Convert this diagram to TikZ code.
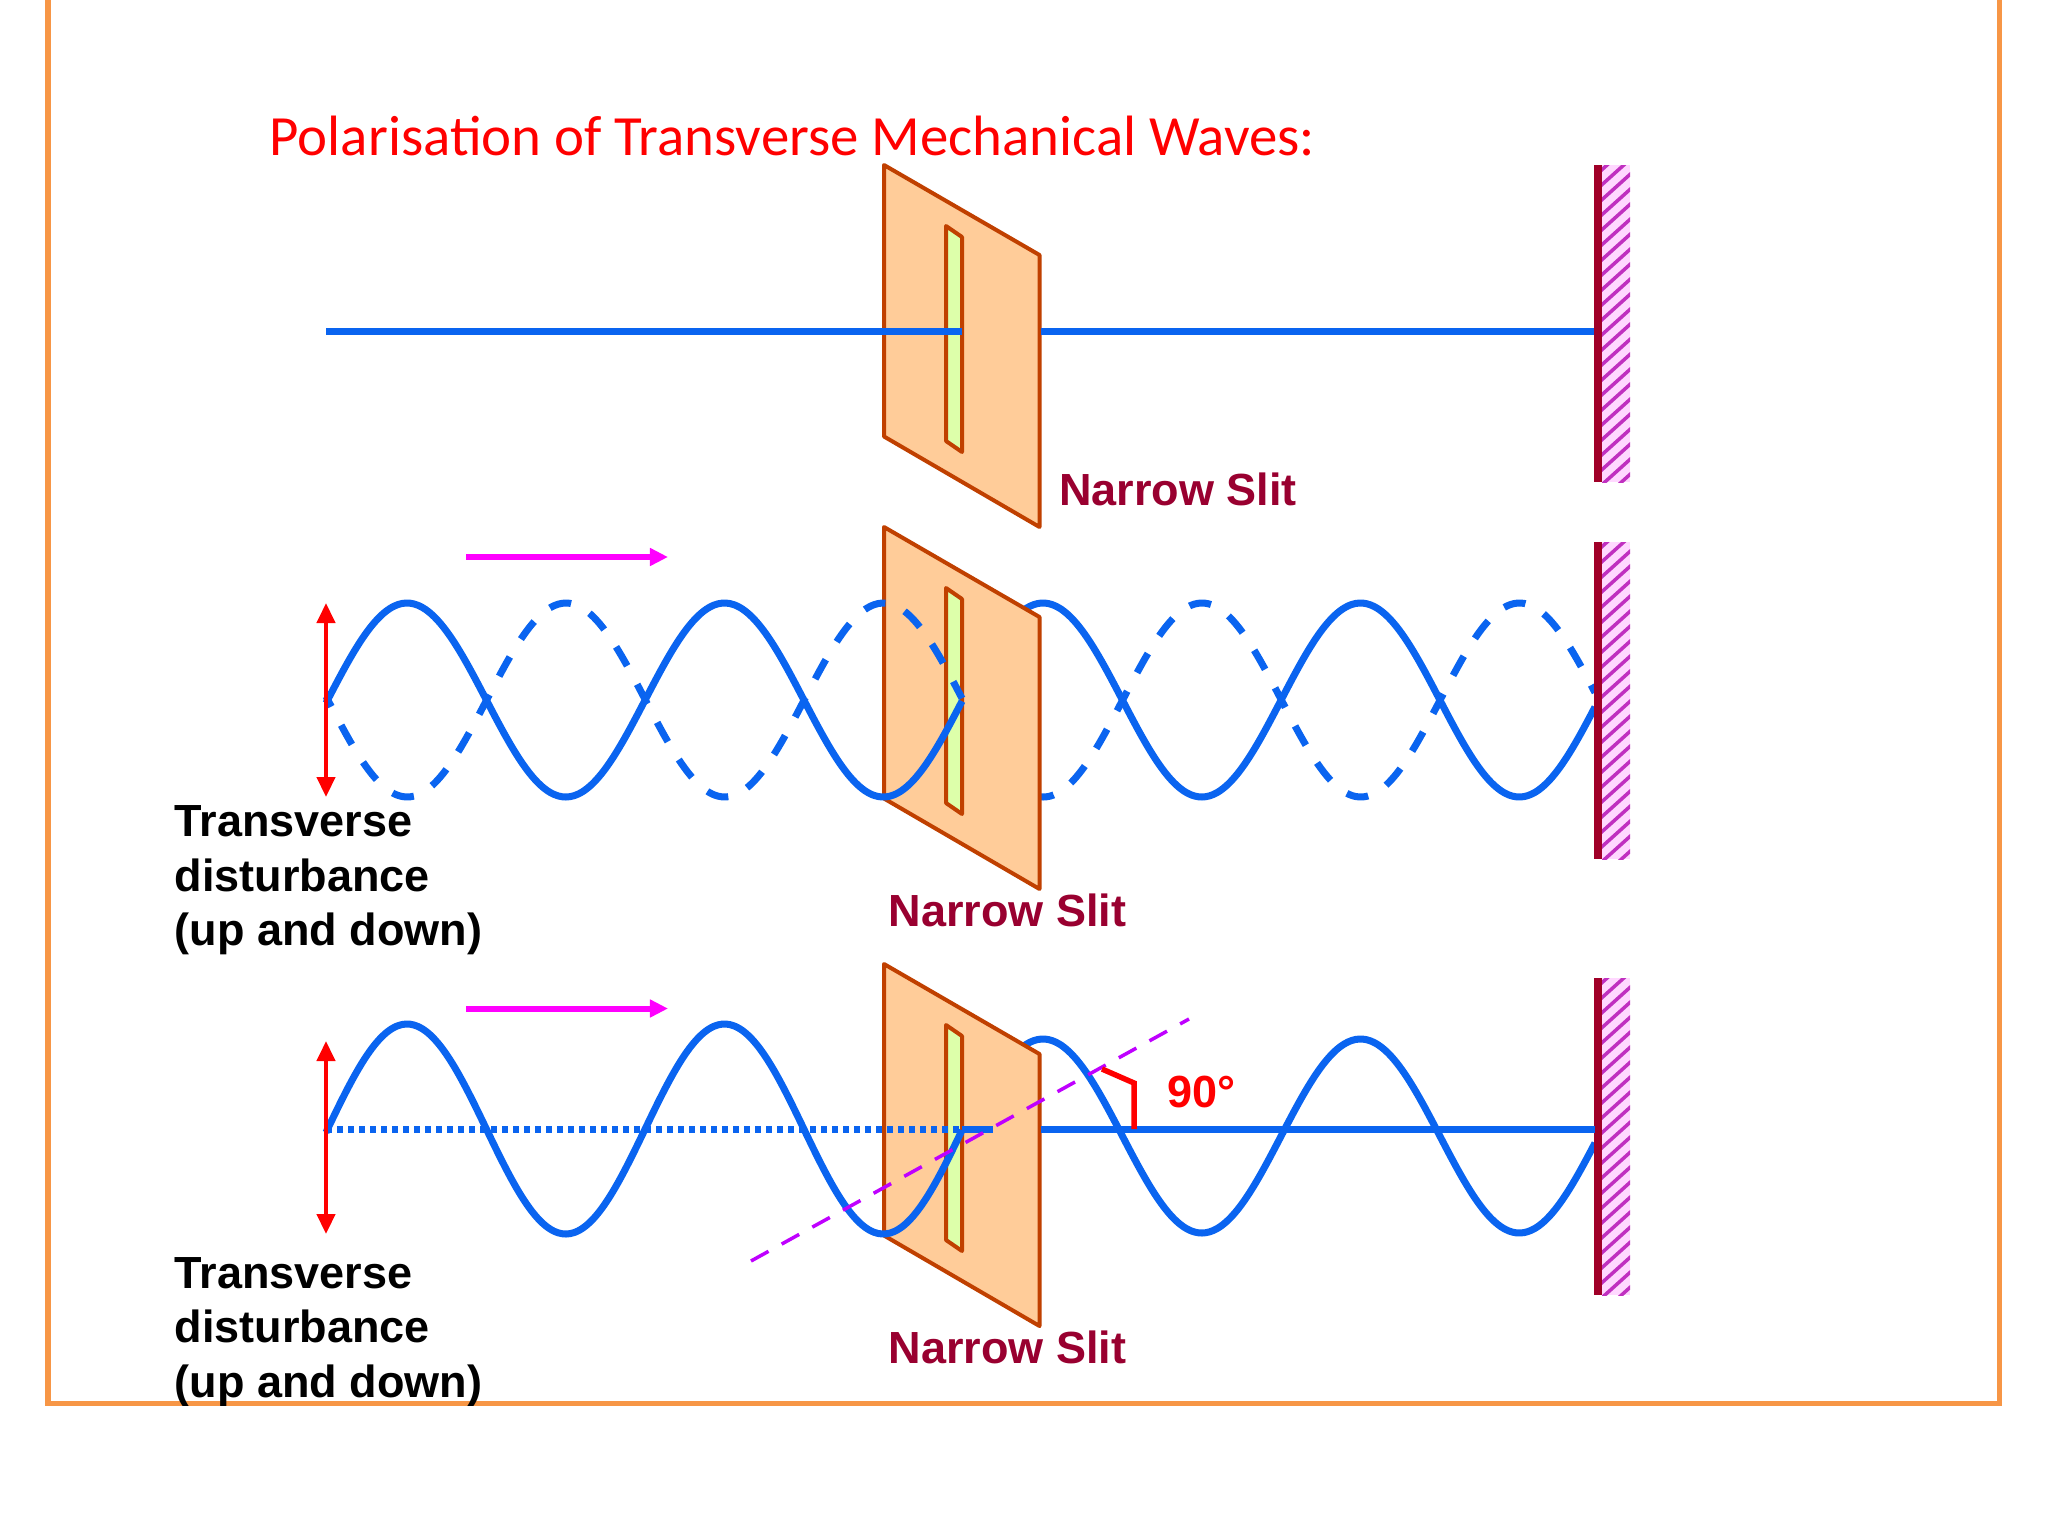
\documentclass[tikz,border=0pt]{standalone}
\usepackage{fontspec}
\setmainfont{Liberation Sans}
\newfontfamily\titlefont{Carlito}
\usetikzlibrary{arrows.meta}
\definecolor{bordor}{HTML}{F79646}
\definecolor{wavebl}{HTML}{0A64F0}
\definecolor{plateedge}{HTML}{C04000}
\definecolor{platefill}{HTML}{FFCC99}
\definecolor{slitfill}{HTML}{DDFFAA}
\definecolor{crimsonlab}{HTML}{990030}
\definecolor{walldark}{HTML}{A00028}
\definecolor{hatchlight}{HTML}{FFD8FF}
\definecolor{hatchdark}{HTML}{C030C0}
\definecolor{purpledash}{HTML}{BF00FF}
\definecolor{pinkarr}{HTML}{FF00FF}
\tikzset{
  x=0.01cm,y=-0.01cm,
  bluewave/.style={wavebl,line width=0.07cm,line join=round},
  plate/.style={draw=plateedge,fill=platefill,line width=0.04cm,line join=round},
  slit/.style={draw=plateedge,fill=slitfill,line width=0.04cm,line join=round},
  labelblack/.style={inner sep=0pt,anchor=base west,font=\fontsize{12.8}{15.4}\selectfont\bfseries,text=black},
  labelslit/.style={inner sep=0pt,anchor=base west,font=\fontsize{12.8}{15.4}\selectfont\bfseries,text=crimsonlab},
  redarrow/.style={red,line width=0.045cm,{Triangle[length=0.2cm,width=0.18cm]}-{Triangle[length=0.2cm,width=0.18cm]}},
  pinkarrow/.style={draw=pinkarr,line width=0.06cm,-{Triangle[length=0.18cm,width=0.17cm]}}
}
\newcommand{\plateat}[1]{%
  \begin{scope}[yshift=-#1*0.01cm]
  \draw[plate] (884,165)--(1039.5,255)--(1039.5,527)--(884,436.5)--cycle;
  \draw[slit] (946,226)--(962,237)--(962,452)--(946,441)--cycle;
  \end{scope}}
\newcommand{\wallat}[1]{%
  \begin{scope}[yshift=-#1*0.01cm]
  \fill[hatchlight] (1602,165) rectangle (1630,482);
  \begin{scope}
    \clip (1602,165) rectangle (1630,482);
    \foreach \k in {0,...,24}{
      \draw[hatchdark,line width=0.035cm] (1596,{175+\k*15}) -- (1636,{175+\k*15-36});
    }
  \end{scope}
  \fill[walldark] (1594,165) rectangle (1602,482);
  \end{scope}}
\newcommand{\sinewave}[6]{%
  \draw[bluewave,#6,domain=#1:#2,samples=160,smooth,variable=\xv]
    plot ({\xv},{#3-#4*cos((\xv-#5)/317.5*360)});}
\begin{document}
\begin{tikzpicture}
\useasboundingbox (0,0) rectangle (2048,1536);
\fill[white] (0,0) rectangle (2048,1536);
% border
\draw[bordor,line width=0.05cm,line join=miter] (48,-5)--(48,1403.5)--(1999.5,1403.5)--(1999.5,-5);
% title
\node[inner sep=0pt,anchor=base west,text=red,font=\titlefont\fontsize{16.17}{19}\selectfont] (title) at (269,155) {Polarisation of Transverse Mechanical Waves:};

% Row 1
\coordinate (r1a) at (326,331);
\coordinate (r1b) at (962,331);
\coordinate (r1c) at (1041,331);
\coordinate (r1d) at (1594,331);
\plateat{0}
\wallat{0}
\draw[bluewave] (r1a)--(r1b);
\draw[bluewave] (r1c)--(r1d);
\node[labelslit] (slit1) at (1058.5,505) {Narrow Slit};

% Row 2
\coordinate (r2top) at (466,557);
\coordinate (r2toph) at (668,557);
\draw[pinkarrow] (r2top)--(r2toph);
\sinewave{1000}{1595}{700}{97}{1043}{}
\sinewave{1036}{1595}{700}{97}{1202}{dash pattern=on 0.22cm off 0.21cm,dash phase=0.04cm}
\plateat{362}
\wallat{377}
\sinewave{326}{962}{700}{97}{407}{}
\sinewave{326}{962}{700}{97}{566}{dash pattern=on 0.22cm off 0.21cm,dash phase=0.105cm}
\coordinate (r2u) at (326,603);
\coordinate (r2d) at (326,797);
\draw[redarrow] (r2u)--(r2d);
\node[labelblack] (t2a) at (174,836) {Transverse};
\node[labelblack] (t2b) at (174,891) {disturbance};
\node[labelblack] (t2c) at (174,945) {(up and down)};
\node[labelslit] (slit2) at (888,926) {Narrow Slit};

% Row 3
\coordinate (r3top) at (466,1008.5);
\coordinate (r3toph) at (668,1008.5);
\draw[pinkarrow] (r3top)--(r3toph);
\sinewave{1000}{1595}{1136}{97}{1043}{}
\plateat{799}
\wallat{813}
\coordinate (r3a) at (326,1129);
\coordinate (r3b) at (962,1129);
\coordinate (r3c) at (993,1129);
\coordinate (r3d) at (1041,1129);
\coordinate (r3e) at (1595,1129);
\draw[bluewave,dash pattern=on 0.055cm off 0.055cm] (r3a)--(r3b);
\draw[bluewave] (r3b)--(r3c);
\draw[bluewave] (r3d)--(r3e);
\sinewave{326}{962}{1129}{105}{407}{}
\coordinate (d1) at (751,1261);
\coordinate (d2) at (1189,1019);
\draw[purpledash,line width=0.035cm,dash pattern=on 0.2cm off 0.15cm] (d1)--(d2);
\coordinate (a1) at (1134,1129);
\coordinate (a2) at (1134,1083);
\coordinate (a3) at (1102,1069);
\draw[red,line width=0.055cm,line join=miter] (a1)--(a2)--(a3);
\node[inner sep=0pt,anchor=base west,text=red,font=\fontsize{12.8}{15.4}\selectfont\bfseries] (deg) at (1167,1107) {90°};
\coordinate (r3u) at (326,1041);
\coordinate (r3dn) at (326,1234);
\draw[redarrow] (r3u)--(r3dn);
\node[labelblack] (t3a) at (174,1288) {Transverse};
\node[labelblack] (t3b) at (174,1342.5) {disturbance};
\node[labelblack] (t3c) at (174,1397) {(up and down)};
\node[labelslit] (slit3) at (888,1363) {Narrow Slit};
\fill[white] (0,1406) rectangle (2048,1440);
\end{tikzpicture}
\end{document}
